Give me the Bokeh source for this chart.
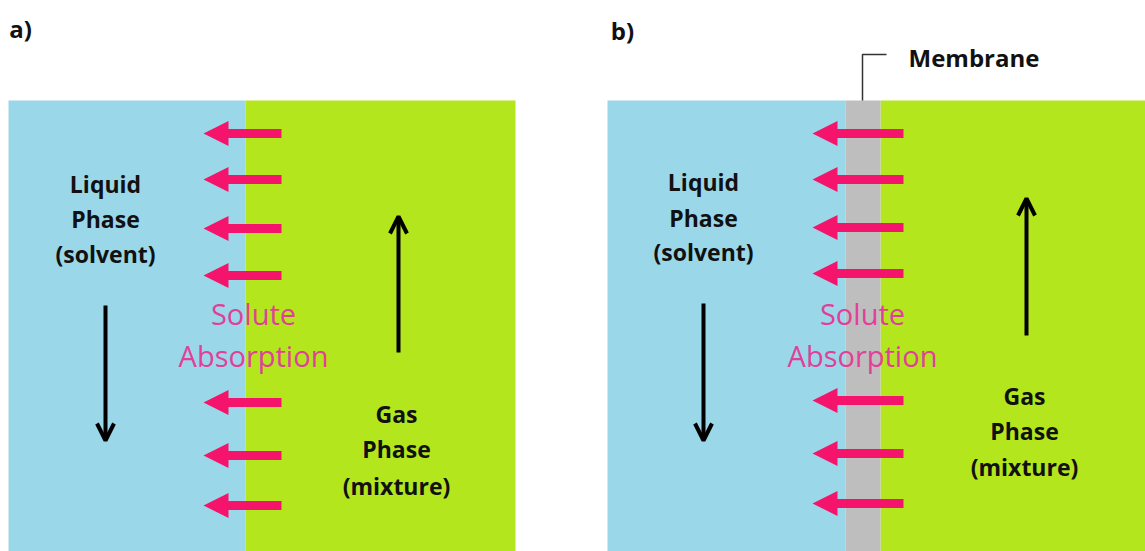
from bokeh.plotting import figure
from bokeh.models import Range1d, ColumnDataSource, Arrow, OpenHead
from bokeh.core.properties import value
from bokeh.embed import file_html
from bokeh.resources import INLINE

# ---- diagram data ----
panel_labels = ["a)", "b)"]
panel_label_x = [20, 622]
panel_label_y = [28, 30]

# regions (left, right) per panel
liquid_x = [(8, 245), (607, 845)]
gas_x = [(245, 515), (880, 1145)]
membrane_x = [(845, 880)]
region_top = 100
region_bottom = 560

# pink solute arrows
solute_y_a = [133, 179, 228, 275, 402, 455, 505]
solute_y_b = [133, 179, 227, 273, 400, 453, 503]
solute_tip = [203, 812]
solute_tail = [281, 903]

# flow arrows (x, y_start, y_end)
liquid_flow = [(105, 305, 440), (703, 303, 440)]
gas_flow = [(398, 352, 216), (1026, 335, 198)]

liquid_text = ["Liquid", "Phase", "(solvent)"]
liquid_text_y = [[183, 218, 253], [181, 217, 251]]
liquid_text_x = [105, 703]

gas_text = ["Gas", "Phase", "(mixture)"]
gas_text_y = [[413, 448, 485], [395, 430, 466]]
gas_text_x = [396, 1024]

solute_text = ["Solute", "Absorption"]
solute_text_y = [313, 355]
solute_text_x = [253, 862]

BLUE = "#9AD7E8"
GREEN = "#B4E61E"
GRAY = "#BEBEBE"
PINK = "#F5146C"
TEXT_PINK = "#E0409A"

W, H = 1145, 551
p = figure(width=W, height=H, output_backend="svg", toolbar_location=None,
           x_range=Range1d(0, W), y_range=Range1d(H, 0),
           min_border=0, outline_line_color=None)
p.axis.visible = False
p.grid.visible = False
p.background_fill_color = "white"

# regions
p.quad(left=[l for l, r in liquid_x], right=[r for l, r in liquid_x],
       top=region_top, bottom=region_bottom, fill_color=BLUE, line_color=None)
p.quad(left=[l for l, r in gas_x], right=[r for l, r in gas_x],
       top=region_top, bottom=region_bottom, fill_color=GREEN, line_color=None)
p.quad(left=[l for l, r in membrane_x], right=[r for l, r in membrane_x],
       top=region_top, bottom=region_bottom, fill_color=GRAY, line_color=None)

# pink arrows
xs, ys = [], []
for tip, tail, yl in [(solute_tip[0], solute_tail[0], solute_y_a),
                      (solute_tip[1], solute_tail[1], solute_y_b)]:
    hb = tip + 25
    for y in yl:
        xs.append([tail, hb, hb, tip, hb, hb, tail])
        ys.append([y - 4.5, y - 4.5, y - 12.5, y, y + 12.5, y + 4.5, y + 4.5])
p.patches(xs, ys, fill_color=PINK, line_color=None)

# flow arrows
flows = liquid_flow + gas_flow
src = ColumnDataSource(dict(x0=[f[0] for f in flows], y0=[f[1] for f in flows],
                            x1=[f[0] for f in flows], y1=[f[2] for f in flows]))
p.add_layout(Arrow(end=OpenHead(size=17, line_width=4, line_color="black"),
                   x_start="x0", y_start="y0", x_end="x1", y_end="y1",
                   line_width=4, line_color="black", source=src))

FONT = value("Open Sans")

# panel labels
p.text(x=panel_label_x, y=panel_label_y, text=panel_labels, text_font=FONT,
       text_font_style="bold", text_font_size="24px", text_align="center",
       text_baseline="middle", text_color="#111111")

# liquid / gas labels
for i in range(2):
    p.text(x=[liquid_text_x[i]] * 3, y=liquid_text_y[i], text=liquid_text,
           text_font=FONT, text_font_style="bold", text_font_size="23px",
           text_align="center", text_baseline="middle", text_color="#111111")
    p.text(x=[gas_text_x[i]] * 3, y=gas_text_y[i], text=gas_text,
           text_font=FONT, text_font_style="bold", text_font_size="23px",
           text_align="center", text_baseline="middle", text_color="#111111")
    p.text(x=[solute_text_x[i]] * 2, y=solute_text_y, text=solute_text,
           text_font=FONT, text_font_size="29px",
           text_align="center", text_baseline="middle", text_color=TEXT_PINK)

# membrane leader and label
p.line(x=[862, 862, 886], y=[100, 54, 54], line_color="#333333", line_width=1.5)
p.text(x=[908], y=[57], text=["Membrane"], text_font=FONT, text_font_style="bold",
       text_font_size="24px", text_align="left", text_baseline="middle",
       text_color="#111111")

open("out.html", "w").write(file_html(p, INLINE))
